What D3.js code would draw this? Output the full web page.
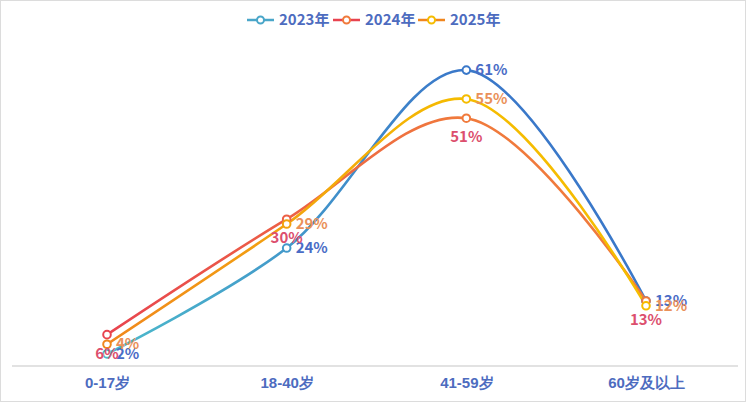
<!DOCTYPE html>
<html>
<head>
<meta charset="utf-8">
<script src="https://cdn.jsdelivr.net/npm/d3@7"></script>
<style>
    html, body { margin: 0; padding: 0; background: #fff; }
    svg { display: block; font-family: "Noto Sans CJK SC", "Noto Sans", sans-serif; }
</style>
</head>
<body>
<script>
// DATA
var categories = ['0-17岁', '18-40岁', '41-59岁', '60岁及以上'];
var seriesNames = ['2023年', '2024年', '2025年'];
var values2023 = [2, 24, 61, 13];
var values2024 = [6, 30, 51, 13];
var values2025 = [4, 29, 55, 12];

var chart = {
    init: function () {
        var self = this;

        self.width = 750;
        self.height = 404;

        self.svg = d3.select('body').append('svg')
            .attr('width', self.width)
            .attr('height', self.height);

        self.series = [
            { name: seriesNames[0], values: values2023, from: '#4cbccb', to: '#3a78c9', label: '#4a6cc6', pos: 'right' },
            { name: seriesNames[1], values: values2024, from: '#e8434f', to: '#f07a3c', label: '#dc4f6e', pos: 'below' },
            { name: seriesNames[2], values: values2025, from: '#f0861e', to: '#f5bc00', label: '#ea915a', pos: 'right' }
        ];

        self.x = d3.scalePoint().domain(categories).range([107, 646]);
        self.y = d3.scaleLinear().domain([0, 70]).range([363.5, 26.8]);

        self.draw();
    },
    draw: function () {
        var self = this,
            svg = self.svg,
            defs = svg.append('defs');

        // frame
        svg.append('rect')
            .attr('x', 0.5).attr('y', 0.5)
            .attr('width', self.width - 5).attr('height', self.height - 3)
            .attr('fill', '#fff').attr('stroke', '#dcdcdc');

        // gradients along x
        self.series.forEach(function (s, i) {
            var g = defs.append('linearGradient')
                .attr('id', 'grad' + i)
                .attr('gradientUnits', 'userSpaceOnUse')
                .attr('x1', 100).attr('x2', 650).attr('y1', 0).attr('y2', 0);
            g.append('stop').attr('offset', '0%').attr('stop-color', s.from);
            g.append('stop').attr('offset', '65%').attr('stop-color', s.to);
            g.append('stop').attr('offset', '100%').attr('stop-color', s.to);
        });

        // x axis
        var xAxis = d3.axisBottom(self.x).tickSize(0).tickPadding(11);
        var ax = svg.append('g').attr('transform', 'translate(0,366)').call(xAxis);
        ax.select('.domain').remove();
        svg.append('line')
            .attr('x1', 12).attr('x2', 738).attr('y1', 366).attr('y2', 366)
            .attr('stroke', '#d9d9d9').attr('stroke-width', 1.5);
        ax.selectAll('text')
            .attr('fill', '#4d6cbf')
            .style('font-size', '15px')
            .style('font-weight', 'bold');

        var line = d3.line()
            .x(function (d, i) { return self.x(categories[i]); })
            .y(function (d) { return self.y(d); })
            .curve(d3.curveCatmullRom.alpha(0.5));

        // lines
        self.series.forEach(function (s, i) {
            svg.append('path')
                .datum(s.values)
                .attr('d', line)
                .attr('fill', 'none')
                .attr('stroke', 'url(#grad' + i + ')')
                .attr('stroke-width', 2.6);
        });

        // markers
        self.series.forEach(function (s, i) {
            svg.selectAll('.m' + i).data(s.values).enter().append('circle')
                .attr('cx', function (d, j) { return self.x(categories[j]); })
                .attr('cy', function (d) { return self.y(d); })
                .attr('r', 3.8)
                .attr('fill', '#fff')
                .attr('stroke', 'url(#grad' + i + ')')
                .attr('stroke-width', 2);
        });

        // labels
        self.series.forEach(function (s) {
            svg.selectAll(null).data(s.values).enter().append('text')
                .attr('x', function (d, j) {
                    var cx = self.x(categories[j]);
                    return s.pos === 'right' ? cx + 9 : cx;
                })
                .attr('y', function (d) {
                    var cy = self.y(d);
                    return s.pos === 'right' ? cy + 5 : cy + 24;
                })
                .attr('text-anchor', s.pos === 'right' ? 'start' : 'middle')
                .attr('fill', s.label)
                .style('font-size', '15px')
                .style('font-weight', 'bold')
                .text(function (d) { return d + '%'; });
        });

        // legend
        var lx = [247, 333, 418];
        self.series.forEach(function (s, i) {
            var g = svg.append('g').attr('transform', 'translate(' + lx[i] + ',20)');
            g.append('line')
                .attr('x1', 0).attr('x2', 27).attr('y1', 0).attr('y2', 0)
                .attr('stroke', i === 0 ? '#4aa6c9' : s.from).attr('stroke-width', 2.5);
            g.append('circle')
                .attr('cx', 13.5).attr('cy', 0).attr('r', 3.5)
                .attr('fill', '#fff')
                .attr('stroke', i === 0 ? '#4aa6c9' : s.to)
                .attr('stroke-width', 2);
            g.append('text')
                .attr('x', 32).attr('y', 5)
                .attr('fill', '#4d6cbf')
                .style('font-size', '15px')
                .style('font-weight', 'bold')
                .text(s.name);
        });
    }
};

chart.init();
</script>
</body>
</html>
